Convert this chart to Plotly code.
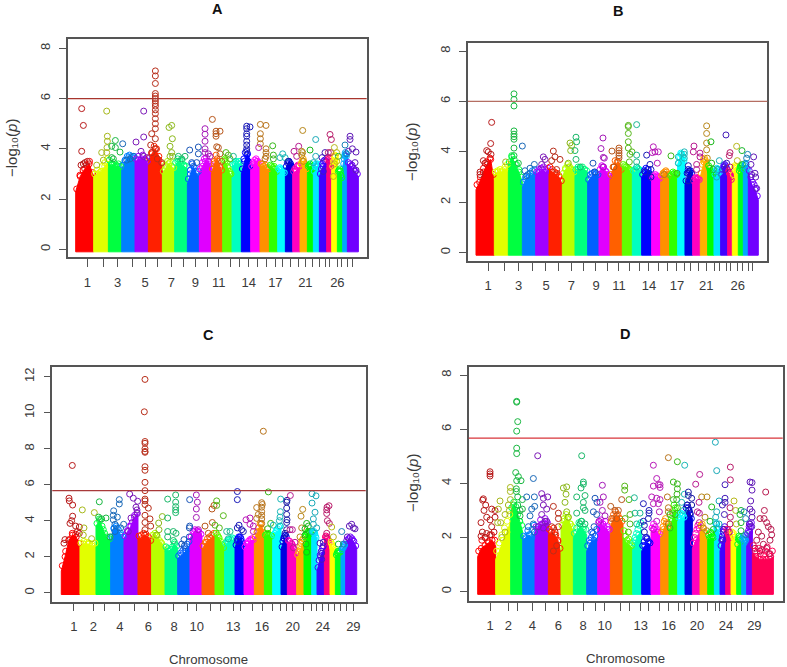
import numpy as np
import plotly.graph_objects as go

W, H = 787, 667

COLORS = ["#ff0000","#e2ff00","#00ff40","#0080ff","#a000ff","#ff2000","#b8ff00","#00ff80","#0060ff","#e000ff",
          "#ff6000","#60ff00","#00ffc0","#0000ff","#ff00ff","#ff9000","#30ff00","#00ffff","#0000e0","#ff00c0",
          "#ffb000","#00ff00","#00e8ff","#4000ff","#ff0080","#ffff00","#00ff20","#00a8ff","#7000ff","#ff0055"]

# chromosome edges along the genome axis (arbitrary position units)
A_edges = [227,281,325,365,405,445,487,524,562,598,634,668,696,724,752,780,808,833,856,878,900,922,940,958,980,995,1012,1028,1042,1075]
B_edges = [243,298,340,382,422,462,502,540,578,612,645,682,712,740,770,797,824,848,870,893,916,938,957,977,998,1012,1030,1045,1060,1090]
C_edges = [184,240,288,332,372,414,455,495,533,570,606,645,674,705,732,763,793,818,843,862,890,912,935,951,973,990,1006,1023,1037,1070]
D_edges = [248,302,347,383,420,460,498,535,575,608,646,684,713,740,768,797,822,848,870,892,915,938,958,975,992,1008,1025,1040,1055,1072,1135]

A_ticks = [262,311,353,396,435,473,514,550,586,622,656,690,718,746,772,798,826,848,870,894,916,938,958,975,988,1012,1025,1042,1057]
B_ticks = [279,327,371,413,453,491,529,567,603,639,672,705,733,762,790,818,846,868,888,910,934,958,975,994,1008,1028,1043,1060,1073]
C_ticks = [222,280,313,360,403,445,473,522,562,590,630,660,700,722,758,786,818,840,860,878,910,935,948,968,985,1003,1020,1040,1060]
D_ticks = [285,340,368,412,451,490,518,564,601,629,677,702,737,760,793,821,850,868,885,906,938,960,973,993,1010,1025,1040,1056,1078,1106]

A_labeled = [1,3,5,7,9,11,14,17,21,26]
B_labeled = [1,3,5,7,9,11,14,17,21,26]
C_labeled = [1,2,4,6,8,10,13,16,20,24,29]
D_labeled = [1,2,4,6,8,10,13,16,20,24,29]

# upper envelope of the dense cloud of each chromosome
A_tops = [[2.3,2.9,3.2,3.4,2.9],[2.9,3.0,3.1,3.3,3.5],[3.4,3.35,3.3,3.3,3.2],[3.2,3.5,3.65,3.7,3.6],[3.5,3.55,3.6,3.55,3.4],
          [3.5,3.8,4.0,3.7,3.2],[3.0,3.2,3.4,3.3,3.1],[3.3,3.5,3.4,3.3,3.2],[2.6,3.0,3.3,3.0,2.9],[3.0,3.3,3.5,3.5,3.3],
          [3.0,3.4,3.6,3.3,3.0],[3.4,3.5,3.3,3.0,2.9],[3.3,3.4,3.4,3.4],[3.0,3.5,3.8,3.5],[3.2,3.4,3.5,3.5],
          [3.3,3.3,3.2,3.2],[3.3,3.2,3.2],[3.1,3.2,3.1],[3.2,3.5,3.4],[3.0,3.1,3.3],
          [3.3,3.5,3.2],[3.2,3.3,3.2],[3.0,3.3,3.3],[2.9,3.3,3.5],[3.5,3.6,3.3],
          [3.2,3.5,3.7],[3.0,3.1,2.8],[3.3,3.7,3.8],[3.4,3.3,3.1,2.9]]
B_tops = [[2.5,2.8,3.2,3.5,3.7,2.8],[3.1,3.2,3.2,3.3,3.4],[3.5,3.8,3.5,3.2,2.8],[2.6,2.9,3.0,3.1,3.2],[3.1,3.2,3.3,3.2,3.3],
          [3.3,3.2,3.1,3.0,2.7],[3.0,3.3,3.4,3.3,3.1],[3.2,3.3,3.3,3.3,3.2],[2.8,3.0,3.1,3.1],[3.2,3.4,3.2,3.0],
          [3.0,3.4,3.6,3.3],[3.4,3.4,3.3,3.2],[3.2,3.2,3.3,3.2],[3.0,3.2,3.3,3.1],[2.9,3.0,3.0,2.9],
          [3.0,3.1,3.2,3.0],[3.0,3.1,3.1],[3.5,3.9,3.7],[2.7,3.2,3.2],[2.8,2.9,2.9],
          [3.0,3.6,3.7],[3.4,3.2,3.1],[3.0,3.3,3.2],[3.0,3.4,3.4],[3.2,3.1,2.9],
          [3.0,3.4,3.3],[3.2,3.4,3.3],[3.2,3.5,3.3],[3.2,2.7,2.5,2.1]]
C_tops = [[1.2,2.0,2.9,3.2,3.1,2.5],[2.6,2.7,2.7,2.6,2.6],[3.7,4.0,3.5,3.0,2.9],[2.9,3.6,3.6,3.2,3.0],[3.0,3.4,3.7,4.2,4.4],
          [3.0,3.0,3.2,3.1,2.8],[3.1,3.2,2.8,2.5],[2.4,2.3,2.4,2.7,2.5],[1.9,2.1,2.3,2.7],[3.0,3.4,3.4,3.2],
          [2.4,2.8,3.0,3.2],[3.2,3.1,2.7,2.4],[2.6,2.8,2.9,2.9],[2.5,3.0,3.0,2.6],[2.4,2.7,2.9,2.9],
          [3.0,3.4,3.8,3.3],[3.1,3.2,3.1],[3.1,3.4,3.6],[2.4,3.0,3.1],[2.8,2.7,2.1],
          [2.0,2.4,2.9],[3.0,3.3,3.3],[3.3,3.3,3.0],[1.2,2.0,2.5],[3.0,3.0,2.7],
          [2.7,2.5,2.2],[2.0,2.2,2.2],[2.3,2.5,2.6],[2.8,3.0,2.9,2.5]]
D_tops = [[1.3,1.6,1.7,1.8,1.9,1.7],[1.2,1.5,1.9,2.2,2.6],[3.0,3.2,3.0,2.6,2.2],[1.9,2.0,2.1,2.0,2.2],[2.2,2.4,2.5,2.5,2.6],
          [2.1,2.2,2.1,1.9,1.4],[2.3,2.6,2.7,2.5,2.2],[2.0,2.2,2.4,2.3,2.1],[1.5,1.8,1.9,2.0],[2.4,2.5,2.4,2.3,2.1],
          [2.4,2.7,2.8,2.7,2.5],[2.0,1.8,1.7,1.6],[1.6,1.9,2.1,2.3],[1.5,1.7,1.8,1.7],[2.2,2.3,2.2,2.0],
          [2.0,2.3,2.5,2.3],[2.2,2.6,3.0,2.8],[2.6,2.7,2.7],[3.0,3.0,2.7],[1.6,1.9,2.2],
          [2.3,2.2,1.9],[1.9,2.0,1.9],[2.4,2.3,2.0],[1.5,1.9,2.2],[2.1,2.1,1.9],
          [2.0,2.0,1.7],[1.6,1.9,1.8],[1.8,1.8,1.8],[2.0,2.2,2.3],[1.4,1.3,1.2,1.2,1.2,1.2,1.3]]

# ragged rim of the cloud: heights of rim points spread across each chromosome
A_rim = [[2.4,2.95,3.15,3.35,3.5,3.05],[3.0,3.15,3.05,3.3,3.45,3.6],[3.55,3.4,3.45,3.35,3.4,3.3],[3.35,3.55,3.7,3.75,3.65,3.7],[3.6,3.7,3.55,3.75,3.6,3.5],
         [3.65,3.85,4.1,4.0,3.55,3.4],[3.1,3.35,3.5,3.45,3.3,3.25],[3.45,3.6,3.5,3.55,3.35,3.3],[2.8,3.15,3.4,3.25,3.1,3.1],[3.2,3.45,3.6,3.65,3.5,3.4],
         [3.2,3.5,3.75,3.5,3.25,3.15],[3.55,3.6,3.45,3.25,3.1,3.0],[3.4,3.45,3.5,3.45,3.5,3.4],[3.2,3.6,3.85,3.75,3.5,3.3],[3.3,3.45,3.55,3.6,3.5,3.45],
         [3.4,3.4,3.3,3.35,3.25,3.2],[3.35,3.3,3.25,3.3,3.2,3.1],[3.2,3.25,3.2,3.15,3.1,3.05],[3.3,3.45,3.5,3.45,3.4,3.3],[3.1,3.2,3.15,3.3,3.35,3.3],
         [3.4,3.5,3.6,3.4,3.3,3.2],[3.3,3.35,3.4,3.3,3.3,3.2],[3.1,3.3,3.4,3.35,3.4,3.3],[3.0,3.2,3.4,3.5,3.55,3.5],[3.55,3.65,3.6,3.5,3.4,3.3],
         [3.3,3.5,3.7,3.75,3.7,3.5],[3.1,3.15,3.2,3.1,2.95,2.85],[3.4,3.6,3.75,3.85,3.8,3.7],[3.45,3.4,3.35,3.2,3.1,3.0]]
B_rim = [[2.7,3.0,3.35,3.6,3.75,3.1],[3.2,3.25,3.3,3.25,3.4,3.5],[3.6,3.85,3.7,3.5,3.3,3.0],[2.8,3.0,3.1,3.15,3.25,3.3],[3.2,3.3,3.35,3.4,3.3,3.35],
         [3.4,3.3,3.2,3.15,3.05,2.85],[3.15,3.35,3.5,3.4,3.3,3.2],[3.3,3.4,3.35,3.4,3.3,3.25],[2.9,3.1,3.15,3.2,3.15,3.1],[3.3,3.45,3.4,3.25,3.1,3.05],
         [3.1,3.4,3.65,3.6,3.4,3.3],[3.5,3.45,3.4,3.35,3.3,3.25],[3.25,3.3,3.25,3.35,3.3,3.25],[3.1,3.25,3.35,3.3,3.15,3.05],[2.95,3.05,3.1,3.05,3.0,2.95],
         [3.05,3.15,3.2,3.25,3.1,3.05],[3.05,3.1,3.2,3.15,3.1,3.1],[3.55,3.8,3.95,3.9,3.8,3.65],[2.85,3.15,3.3,3.25,3.25,3.15],[2.85,2.95,3.0,2.95,2.95,2.9],
         [3.15,3.5,3.7,3.75,3.65,3.5],[3.45,3.35,3.25,3.2,3.15,3.1],[3.1,3.25,3.35,3.3,3.25,3.2],[3.1,3.3,3.45,3.5,3.45,3.35],[3.25,3.2,3.15,3.1,3.0,2.9],
         [3.1,3.35,3.45,3.4,3.35,3.25],[3.25,3.35,3.45,3.45,3.35,3.3],[3.3,3.45,3.55,3.5,3.35,3.3],[3.25,3.0,2.8,2.7,2.55,2.25]]
C_rim = [[1.5,2.3,2.95,3.3,3.25,2.75],[2.75,2.85,2.8,2.75,2.7,2.75],[3.85,4.1,3.7,3.3,3.1,3.0],[3.1,3.55,3.7,3.5,3.3,3.1],[3.15,3.45,3.7,3.9,4.3,4.45],
         [3.15,3.2,3.3,3.25,3.1,2.9],[3.2,3.3,3.15,2.9,2.75,2.55],[2.55,2.45,2.4,2.55,2.8,2.6],[2.05,2.2,2.35,2.5,2.7,2.85],[3.1,3.4,3.5,3.45,3.35,3.25],
         [2.6,2.8,3.0,3.1,3.2,3.3],[3.3,3.2,3.05,2.85,2.65,2.5],[2.75,2.9,2.95,3.0,3.05,3.0],[2.65,2.95,3.1,3.1,2.85,2.7],[2.55,2.75,2.85,2.95,3.0,2.95],
         [3.1,3.35,3.6,3.85,3.55,3.35],[3.2,3.25,3.3,3.2,3.2,3.15],[3.2,3.3,3.45,3.55,3.65,3.7],[2.55,2.85,3.05,3.15,3.2,3.1],[2.9,2.85,2.75,2.6,2.4,2.2],
         [2.1,2.3,2.55,2.75,2.9,3.0],[3.1,3.25,3.35,3.4,3.35,3.3],[3.4,3.35,3.4,3.3,3.15,3.05],[1.4,1.8,2.1,2.3,2.5,2.6],[3.1,3.15,3.05,3.0,2.9,2.75],
         [2.8,2.7,2.6,2.5,2.35,2.25],[2.1,2.2,2.3,2.3,2.25,2.25],[2.4,2.5,2.55,2.6,2.7,2.65],[2.9,3.0,3.1,3.0,2.85,2.6]]
D_rim = [[1.5,1.9,2.0,1.85,2.1,1.9],[1.5,1.8,2.1,2.35,2.6,2.85],[3.1,3.3,3.15,2.85,2.6,2.45],[2.05,1.95,2.25,2.1,2.3,2.45],[2.4,2.3,2.65,2.5,2.7,2.55],
         [2.3,2.2,2.35,2.1,1.85,1.6],[2.45,2.7,2.85,2.75,2.5,2.4],[2.15,2.35,2.55,2.6,2.4,2.3],[1.7,1.9,2.0,2.15,2.05,2.3],[2.55,2.65,2.5,2.6,2.4,2.3],
         [2.6,2.85,2.95,2.85,2.7,2.6],[2.25,2.05,1.9,1.95,1.8,1.7],[1.8,2.0,2.15,2.3,2.45,2.55],[1.7,1.85,2.0,1.95,1.85,1.8],[2.35,2.5,2.4,2.3,2.2,2.15],
         [2.2,2.4,2.6,2.7,2.55,2.4],[2.4,2.7,2.9,3.2,3.1,2.9],[2.75,2.85,2.9,2.8,2.85,2.75],[3.1,3.2,3.1,3.0,2.85,2.7],[1.8,2.0,2.15,2.3,2.45,2.35],
         [2.45,2.5,2.35,2.2,2.1,2.05],[2.1,2.0,2.2,2.15,2.05,2.0],[2.55,2.5,2.35,2.3,2.2,2.05],[1.7,1.9,2.05,2.2,2.3,2.4],[2.3,2.2,2.3,2.15,2.05,2.0],
         [2.2,2.1,2.15,2.0,1.9,1.8],[1.75,1.95,2.05,2.0,1.9,1.85],[1.95,2.05,1.9,2.0,1.95,1.9],[2.15,2.25,2.4,2.5,2.4,2.55],[1.7,1.5,1.45,1.6,1.4,1.55,1.35,1.5,1.65,1.4,1.3,1.5]]

# individually visible points above the cloud: (position, -log10 p)
A_hits = [(245,5.6),(250,4.93),(245,3.9),(243,3.35),(250,3.4),(262,3.5),(255,3.45),
 (320,5.5),(322,4.5),(322,4.3),(321,4.05),(305,3.85),(320,3.85),(290,3.35),(310,3.55),
 (346,4.33),(335,4.1),(346,4.05),(360,3.87),(335,3.65),(340,3.6),(368,4.2),
 (408,4.27),(380,3.55),(390,3.6),(400,3.7),(431,5.5),(431,4.47),(423,3.9),(430,3.7),(440,3.65),
 (466,7.1),(466,6.9),(466,6.6),(466,6.2),(466,6.1),(466,6.0),(466,5.9),(466,5.8),(466,5.7),(466,5.55),(466,5.4),(466,5.2),(466,5.0),(466,4.8),(455,4.6),(466,4.4),(452,4.15),(466,4.0),(455,3.85),(472,3.6),(485,3.45),
 (507,4.85),(515,4.93),(517,4.4),(510,4.1),(515,3.85),(510,3.7),(518,3.7),(535,3.7),(555,3.7),(545,3.6),
 (569,3.95),(575,3.45),(590,3.45),(595,4.07),(595,3.8),
 (615,4.8),(615,4.58),(615,4.3),(615,4.0),(615,3.85),(625,3.8),(630,3.7),
 (637,5.17),(648,4.7),(648,4.6),(648,4.5),(660,4.7),(650,4.08),(655,4.05),(660,3.8),(665,3.5),
 (678,3.85),(685,3.75),(690,3.6),(700,3.7),
 (740,4.9),(740,4.8),(740,4.6),(740,4.5),(740,4.3),(740,4.15),(740,4.0),(740,3.9),(750,4.87),
 (781,4.97),(781,4.6),(781,4.4),(781,4.2),(776,4.05),(798,4.93),(798,4.0),(798,3.85),(798,3.7),(795,3.6),
 (818,4.12),(820,3.75),(820,3.6),(848,3.8),(840,3.65),(855,3.65),(865,3.5),
 (882,3.9),(896,4.1),(890,3.7),(905,3.9),(905,3.75),(908,4.73),(908,3.85),(910,3.5),
 (930,3.95),(940,3.45),(947,3.7),(947,4.37),(966,3.65),(970,3.1),(975,3.85),
 (990,4.57),(994,4.37),(985,3.85),(992,3.85),(1003,4.05),(1010,3.85),(1015,3.7),(1003,3.4),(1010,3.5),(1000,2.9),
 (1035,4.15),(1050,4.5),(1050,4.37),(1045,3.9),(1040,3.8),(1057,4.0),(1068,3.87),(1065,3.45),(1068,3.15)]
B_hits = [(290,5.17),(287,4.33),(275,4.05),(280,4.0),(288,3.9),(265,3.65),(270,3.55),(255,3.2),(255,3.1),(332,3.6),
 (357,6.3),(357,6.08),(357,5.82),(357,4.83),(357,4.7),(357,4.6),(357,4.5),(357,4.15),(382,4.23),(357,3.85),(370,3.55),
 (390,3.25),(405,3.35),(418,3.5),(395,3.05),(445,3.8),(450,3.7),(440,3.5),
 (475,4.03),(480,3.8),(470,3.65),(495,3.7),(485,3.3),(525,4.35),(527,4.05),(530,4.25),(520,3.55),
 (543,4.58),(545,4.4),(540,4.05),(543,3.7),(556,3.4),(594,3.55),(600,3.2),
 (618,4.13),(624,4.55),(625,3.78),(628,3.75),(625,3.4),(651,4.03),(657,3.4),(672,4.15),(672,4.05),(672,3.95),(672,3.85),(672,3.75),
 (700,5.05),(700,5.0),(700,4.73),(700,4.4),(700,4.15),(711,4.0),(705,3.9),(703,3.6),(725,5.08),(725,3.87),(725,3.6),(725,3.4),
 (755,3.87),(765,3.5),(750,3.2),(768,3.3),(768,3.0),(775,4.2),(772,3.97),(790,4.0),(780,4.0),(787,3.55),(808,3.1),(828,3.84),
 (850,3.8),(850,3.55),(846,3.15),(868,4.0),(868,3.9),(868,3.75),(880,3.45),(880,3.15),(880,2.85),
 (897,4.23),(895,4.0),(915,3.95),(915,3.8),(905,3.5),(905,3.3),(935,5.03),(935,4.73),(935,4.35),(935,4.08),(937,3.75),
 (948,4.4),(950,3.55),(955,3.3),(973,3.65),(968,3.3),(965,3.0),(993,4.67),(995,3.55),(990,3.3),
 (1005,3.97),(1003,3.85),(1005,3.4),(1025,4.22),(1027,3.65),(1041,4.05),(1042,3.5),(1058,3.9),(1055,3.75),
 (1076,3.8),(1068,3.5),(1080,3.15),(1082,3.0),(1085,2.55),(1070,3.1)]
C_hits = [(217,7.07),(207,5.25),(208,5.1),(218,4.87),(218,4.25),(210,3.85),(215,4.0),(227,3.7),(238,3.65),(232,3.4),(238,3.3),(192,2.75),(195,2.95),
 (247,4.6),(283,4.45),(252,3.6),(250,3.2),(275,3.0),(298,5.05),(296,4.2),(318,4.15),(305,4.1),(330,3.1),
 (358,5.17),(358,4.93),(341,4.55),(340,4.3),(352,4.2),(340,4.05),(345,3.8),(371,3.8),(362,3.6),(345,3.4),
 (389,5.48),(400,5.25),(393,4.15),(408,4.75),(413,5.08),(411,4.6),(412,4.4),(385,3.4),
 (435,11.85),(433,10.05),(435,8.4),(435,8.3),(435,8.0),(435,7.85),(435,7.8),(435,7.0),(435,6.8),(435,6.13),(435,5.67),(435,5.2),(435,5.1),(435,4.9),(445,4.7),(435,4.3),(450,4.1),(435,3.9),(452,3.7),(435,3.5),
 (487,4.23),(476,3.87),(477,3.5),(470,3.2),(503,5.2),(527,5.43),(527,5.03),(527,4.78),(527,4.6),(527,4.45),(503,4.15),(503,3.4),(520,3.4),(528,3.3),(503,3.1),(520,2.9),
 (552,2.95),(545,2.7),(553,2.6),(568,3.1),(568,3.6),(569,3.7),(569,5.17),(589,5.43),(592,5.03),(589,4.65),(589,4.18),(595,3.5),
 (637,3.9),(615,3.7),(625,3.3),(636,4.65),(642,4.85),(650,5.1),(650,4.85),(645,3.75),(658,3.6),(670,4.28),(680,3.4),(690,3.4),(685,3.0),
 (712,5.62),(712,5.17),(712,3.6),(717,3.75),(725,3.5),(730,3.4),(712,2.85),(738,4.05),(750,4.15),(750,3.8),(760,3.7),(760,3.4),
 (770,4.13),(770,4.73),(785,5.0),(787,4.9),(785,4.75),(785,4.5),(785,4.3),(785,4.1),(785,3.85),(775,4.35),(790,8.97),
 (805,5.6),(803,3.55),(812,3.85),(820,3.75),(842,5.2),(841,4.5),(840,4.2),(838,4.0),(841,3.7),
 (861,5.13),(860,5.03),(860,4.7),(860,4.35),(861,4.05),(860,3.9),(855,3.3),(860,3.5),(871,5.4),(877,3.5),(870,3.5),(885,2.8),(880,2.5),
 (908,4.63),(903,4.25),(905,3.6),(915,3.55),(900,3.1),(915,3.2),(918,2.7),(920,3.85),(925,3.7),(920,2.25),
 (936,5.5),(948,5.38),(936,4.98),(945,4.47),(940,4.1),(940,3.8),(950,3.6),(936,3.4),(960,2.75),(970,2.8),(965,2.2),(965,1.85),
 (981,4.75),(987,4.83),(980,4.6),(980,4.4),(982,4.0),(988,3.85),(980,3.3),(995,3.65),(1000,3.1),(1015,2.7),(1025,3.4),(1030,2.7),
 (1048,3.7),(1055,3.8),(1060,3.6),(1042,3.1),(1065,3.55)]
D_hits = [(285,4.43),(285,4.35),(285,4.27),(265,3.43),(263,3.38),(272,3.2),(267,3.0),(290,3.05),(300,3.0),(275,2.75),(258,2.55),(285,2.65),(290,2.4),(262,2.2),(258,2.05),(275,2.15),(300,2.75),(285,2.1),(297,2.2),(270,2.0),
 (310,3.05),(315,3.35),(308,2.55),(317,2.55),(330,2.85),(340,3.2),(346,3.85),(346,3.7),(346,3.4),(343,3.0),(330,2.2),(320,2.0),
 (365,7.03),(365,7.0),(368,6.28),(365,5.93),(365,5.3),(365,5.1),(362,4.4),(370,4.25),(378,4.1),(365,4.1),(364,3.8),(364,3.7),(368,3.5),(382,3.4),(368,3.2),(375,3.0),(382,3.05),(375,2.8),
 (428,5.02),(415,4.18),(395,3.5),(418,3.5),(419,3.15),(410,3.05),(405,2.8),(415,2.5),(400,2.4),(418,2.2),
 (440,3.62),(445,3.45),(458,3.5),(445,3.2),(455,3.05),(440,2.85),(430,2.4),(450,2.6),(455,2.6),(445,2.35),
 (475,3.15),(490,2.9),(490,2.7),(470,2.4),(490,2.4),(480,2.2),(485,1.7),(475,1.5),
 (505,3.83),(515,3.87),(513,3.6),(510,3.3),(515,2.95),(520,2.75),(545,3.5),(560,5.02),(558,3.83),(565,4.05),(565,3.97),(570,3.55),(565,3.3),(565,3.1),(570,3.0),(545,2.9),(560,2.6),(570,2.5),(555,2.5),
 (600,3.45),(595,2.95),(606,3.3),(597,2.4),(605,2.85),(590,2.2),(622,3.93),(625,3.5),(615,3.3),(622,3.0),(612,2.6),(630,2.8),
 (647,3.15),(660,3.0),(650,2.7),(670,3.0),(665,2.7),(680,3.4),(689,3.9),(689,3.75),(702,3.4),(718,3.47),(690,2.7),(705,2.85),(705,2.5),(700,2.2),
 (745,3.25),(720,2.9),(735,2.9),(745,2.6),(725,2.5),(770,3.5),(762,3.0),(762,2.9),(748,2.45),(748,2.2),(760,2.7),(775,2.3),(755,2.0),
 (775,4.67),(785,4.18),(775,3.9),(790,3.95),(795,3.95),(795,3.85),(785,3.45),(795,3.4),(775,3.25),(790,3.25),(793,2.95),(785,2.6),
 (820,4.95),(817,3.5),(820,3.1),(820,2.95),(825,2.85),(820,2.5),(825,2.35),(847,4.8),(835,4.05),(847,3.98),(847,3.8),(846,3.6),(845,3.4),(835,3.4),(847,3.1),(840,2.85),
 (869,4.67),(868,3.6),(860,3.3),(865,3.0),(880,3.68),(880,3.55),(890,3.45),(890,3.2),(877,3.2),(885,2.9),
 (902,3.97),(914,4.33),(920,3.5),(912,3.3),(907,2.95),(913,2.9),(913,2.55),(936,3.5),(930,2.75),(925,2.35),(935,2.25),
 (950,3.13),(945,2.6),(955,2.3),(961,5.52),(965,4.47),(972,3.35),(965,2.95),(962,2.75),(972,2.5),(965,2.5),
 (990,3.95),(990,3.45),(990,3.3),(988,2.85),(982,3.2),(985,2.3),(982,1.95),(1006,4.6),(1006,4.13),(1005,3.1),(1006,2.75),(1005,2.5),(1003,2.2),
 (1017,3.35),(1022,3.0),(1024,2.5),(1038,3.0),(1035,2.85),(1038,2.55),(1038,2.25),(1047,2.95),(1052,2.7),(1052,2.1),
 (1065,4.05),(1071,4.03),(1071,3.75),(1067,3.35),(1065,3.05),(1071,2.95),(1071,2.75),(1063,2.5),(1070,2.4),
 (1112,3.68),(1108,3.0),(1095,2.7),(1107,2.7),(1115,2.55),(1120,2.4),(1128,2.3),(1100,2.05),(1125,1.9),(1090,2.2),(1130,2.1),(1105,1.75),(1125,1.4),(1095,1.5),(1080,1.6),(1115,1.6),(1085,1.9)]

PANELS = [
 dict(name="A", hits=A_hits, tops=A_tops, rim=A_rim, edges=A_edges, ticks=A_ticks, labeled=A_labeled, thr=6.0, yt=[0,2,4,6,8], lc="#a8352d",
      box=(67.7,366.7,39.3,257.3), xr=(203,1100), yr=(-0.318,8.358)),
 dict(name="B", hits=B_hits, tops=B_tops, rim=B_rim, edges=B_edges, ticks=B_ticks, labeled=B_labeled, thr=6.0, yt=[0,2,4,6,8], lc="#b56e62",
      box=(468,767.3,42.7,261), xr=(219,1117), yr=(-0.33,8.33)),
 dict(name="C", hits=C_hits, tops=C_tops, rim=C_rim, edges=C_edges, ticks=C_ticks, labeled=C_labeled, thr=5.67, yt=[0,2,4,6,8,10,12], lc="#a83a3a",
      box=(52.3,365.7,366.7,601.7), xr=(157,1097), yr=(-0.5,12.556)),
 dict(name="D", hits=D_hits, tops=D_tops, rim=D_rim, edges=D_edges, ticks=D_ticks, labeled=D_labeled, thr=5.67, yt=[0,2,4,6,8], lc="#d8343a",
      box=(468.7,782.7,366.7,601), xr=(221,1163), yr=(-0.345,8.31)),
]

def muted(hex_c, k=0.38):
    r, g, b = int(hex_c[1:3],16), int(hex_c[3:5],16), int(hex_c[5:7],16)
    g0 = 70
    return "rgb(%d,%d,%d)" % (r*(1-k)+g0*k, g*(1-k)+g0*k, b*(1-k)+g0*k)

BASE = -0.1
BOX = "#555555"
TXT = "#3a3a3a"
FONT = "Liberation Sans"

fig = go.Figure()
layout = dict(width=W, height=H, margin=dict(l=0,r=0,t=0,b=0), autosize=False, showlegend=False,
              paper_bgcolor="white", plot_bgcolor="white", shapes=[], annotations=[],
              font=dict(family=FONT, size=13, color=TXT))

for i, p in enumerate(PANELS):
    sfx = "" if i == 0 else str(i+1)
    xa, ya = "x"+sfx, "y"+sfx
    l, r, t, b = p["box"]
    rx, ry, rc = [], [], []
    for j, prof in enumerate(p["tops"]):
        x0, x1 = p["edges"][j], p["edges"][j+1]
        xs = list(np.linspace(x0, x1, len(prof)))
        col = COLORS[j]
        fig.add_trace(go.Scatter(x=[x0]+xs+[x1,x0], y=[BASE]+list(prof)+[BASE,BASE], mode="lines", fill="toself",
                                 fillcolor=col, line=dict(color=col, width=1), xaxis=xa, yaxis=ya, hoverinfo="skip"))
        rim = p["rim"][j]
        rx += list(np.linspace(x0+3, x1-3, len(rim)))
        ry += list(rim)
        rc += [col]*len(rim)
        rx += list(xs[1:-1])
        ry += list(prof[1:-1])
        rc += [col]*(len(prof)-2)
    fig.add_trace(go.Scatter(x=rx, y=ry, mode="markers", xaxis=xa, yaxis=ya, hoverinfo="skip",
                             marker=dict(symbol="circle-open", size=6, color=rc, line=dict(width=1, color=rc))))
    hx = np.array([h[0] for h in p["hits"]], float)
    hy = np.array([h[1] for h in p["hits"]], float)
    idx = np.clip(np.searchsorted(p["edges"], hx, side="right")-1, 0, len(p["tops"])-1)
    cols = [muted(COLORS[k]) for k in idx]
    fig.add_trace(go.Scatter(x=hx, y=hy, mode="markers", xaxis=xa, yaxis=ya,
                             marker=dict(symbol="circle-open", size=6, color=cols, line=dict(width=1, color=cols))))
    major = [p["ticks"][k-1] for k in p["labeled"]]
    minor = [v for k, v in enumerate(p["ticks"]) if (k+1) not in p["labeled"]]
    layout["xaxis"+sfx] = dict(domain=[l/W, r/W], range=list(p["xr"]), anchor=ya, tickmode="array",
                               tickvals=major, ticktext=[str(k) for k in p["labeled"]], ticks="outside", ticklen=8, tickwidth=1, tickcolor=BOX,
                               minor=dict(tickmode="array", tickvals=minor, ticks="outside", ticklen=8, tickwidth=1, tickcolor=BOX, showgrid=False),
                               showgrid=False, zeroline=False, showline=True, mirror=True, linecolor=BOX, linewidth=1.5,
                               tickangle=0, ticklabelstandoff=4, tickfont=dict(family=FONT, size=13, color=TXT))
    layout["yaxis"+sfx] = dict(domain=[1-b/H, 1-t/H], range=list(p["yr"]), anchor=xa, tickmode="array",
                               tickvals=p["yt"], ticktext=[str(v) for v in p["yt"]], ticks="outside", ticklen=7, tickwidth=1, tickcolor=BOX,
                               showgrid=False, zeroline=False, showline=True, mirror=True, linecolor=BOX, linewidth=1.5,
                               tickangle=-90, ticklabelstandoff=4, tickfont=dict(family=FONT, size=13, color=TXT))
    layout["shapes"].append(dict(type="line", xref=xa+" domain", yref=ya, x0=0, x1=1, y0=p["thr"], y1=p["thr"],
                                 line=dict(color=p["lc"], width=1.3)))

def note(px, py, text, size=13, angle=0, color=TXT):
    layout["annotations"].append(dict(x=px/W, y=1-py/H, xref="paper", yref="paper", text=text, showarrow=False,
                                      xanchor="center", yanchor="middle", textangle=angle,
                                      font=dict(family=FONT, size=size, color=color)))

for (px, py, s) in [(217,9,"A"),(618,11,"B"),(208,335,"C"),(625,334,"D")]:
    note(px, py, "<b>%s</b>" % s, size=14.5, color="#111111")
note(208, 659, "Chromosome", 13.2)
note(625, 658, "Chromosome", 13.2)
YLAB = "\u2212log\u2081\u2080(<i>p</i>)"
note(11, 148, YLAB, 15, -90)
note(412, 152, YLAB, 15, -90)
note(412, 483, YLAB, 15, -90)

fig.update_layout(**layout)
fig.write_html("out.html", config=dict(displayModeBar=False),
               post_script="document.body.style.margin='0';document.body.style.overflow='hidden';")
